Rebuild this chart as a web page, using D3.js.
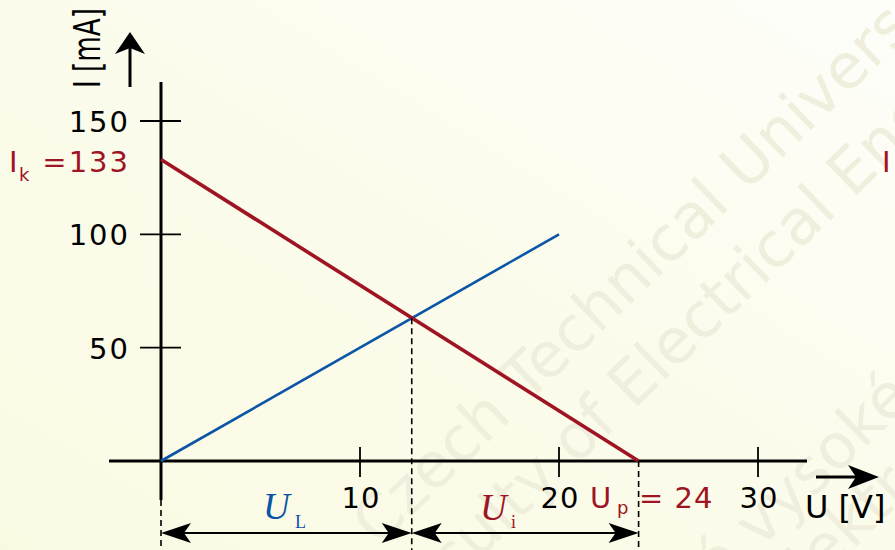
<!DOCTYPE html>
<html lang="en">
<head>
	<meta charset="utf-8">
	<title>Zatěžovací charakteristika</title>
	<script src='https://d3js.org/d3.v7.min.js'></script>
	<style>
		body { margin: 0; overflow: hidden; }
		text { font-family: "DejaVu Sans", sans-serif; }
	</style>
</head>
<body>
	<div id="chart"></div>
	<script>
		// values
		const xTicks = [10, 20, 30];
		const yTicks = [50, 100, 150];
		const sourceLine = [ {u: 0, i: 133}, {u: 24, i: 0} ];   // red
		const loadLine = [ {u: 0, i: 0}, {u: 20, i: 100} ];     // blue
		const Ik = 133;
		const Up = 24;
		const opPoint = {u: 12.6, i: 63};
		const watermark = [
			"Czech Technical University",
			"Faculty of Electrical Engineering",
			"České vysoké učení",
			"Fakulta elektrotechnická"
		];

		let width = 895;
		let height = 550;
		let red = "#9f1422";
		let blue = "#0b55a6";

		let svg = d3.select("#chart")
					.append("svg")
					.attr("width", width)
					.attr("height", height);

		// background
		let defs = svg.append("defs");
		let grad = defs.append("linearGradient")
					.attr("id", "bg")
					.attr("x1", "0").attr("y1", "1")
					.attr("x2", "1").attr("y2", "0");
		grad.append("stop").attr("offset", "0").attr("stop-color", "#fafae3");
		grad.append("stop").attr("offset", "0.6").attr("stop-color", "#fcfcee");
		grad.append("stop").attr("offset", "1").attr("stop-color", "#fefefa");
		svg.append("rect")
			.attr("width", width).attr("height", height)
			.attr("fill", "url(#bg)");

		// faint watermark, clipped to the picture like in the original
		defs.append("clipPath").attr("id", "clip")
			.append("rect").attr("width", width).attr("height", height);
		let wmPos = [ [378, 548], [404, 632], [612, 692], [612, 782] ];
		svg.append("g")
			.attr("clip-path", "url(#clip)")
			.selectAll("text")
			.data(watermark)
			.enter()
			.append("text")
			.attr("transform", (d, k) => "translate(" + wmPos[k][0] + "," + wmPos[k][1] + ") rotate(-44)")
			.style("font-size", "62px")
			.attr("fill", "#f0efdd")
			.text(d => d);

		// scales
		let x = d3.scaleLinear().domain([0, 30]).range([161, 758]);
		let y = d3.scaleLinear().domain([0, 150]).range([461, 121]);

		// axes
		svg.append("line")
			.attr("x1", 109).attr("x2", 807)
			.attr("y1", y(0)).attr("y2", y(0))
			.attr("stroke", "#000").attr("stroke-width", 3);
		svg.append("line")
			.attr("x1", x(0)).attr("x2", x(0))
			.attr("y1", 82).attr("y2", 500)
			.attr("stroke", "#000").attr("stroke-width", 3);

		// ticks
		svg.selectAll("line.xtick")
			.data(xTicks)
			.enter()
			.append("line")
			.attr("class", "xtick")
			.attr("x1", d => x(d)).attr("x2", d => x(d))
			.attr("y1", y(0) - 14).attr("y2", y(0) + 16)
			.attr("stroke", "#000").attr("stroke-width", 1.8);
		svg.selectAll("text.xlab")
			.data(xTicks)
			.enter()
			.append("text")
			.attr("class", "xlab")
			.attr("x", d => x(d) + 1)
			.attr("y", 508)
			.attr("text-anchor", "middle")
			.style("font-size", "29px")
			.style("letter-spacing", "1px")
			.text(d => d);
		svg.selectAll("line.ytick")
			.data(yTicks)
			.enter()
			.append("line")
			.attr("class", "ytick")
			.attr("x1", x(0) - 21).attr("x2", x(0) + 20)
			.attr("y1", d => y(d)).attr("y2", d => y(d))
			.attr("stroke", "#000").attr("stroke-width", 1.8);
		svg.selectAll("text.ylab")
			.data(yTicks)
			.enter()
			.append("text")
			.attr("class", "ylab")
			.attr("x", 130)
			.attr("y", d => y(d) + 11)
			.attr("text-anchor", "end")
			.style("font-size", "29px")
			.style("letter-spacing", "2px")
			.text(d => d);

		// arrows at the axis ends
		svg.append("line")
			.attr("x1", 130).attr("x2", 130).attr("y1", 87).attr("y2", 48)
			.attr("stroke", "#000").attr("stroke-width", 3);
		svg.append("path")
			.attr("d", "M130,32 L145,54 L130,48 L115,54 Z")
			.attr("fill", "#000");
		svg.append("line")
			.attr("x1", 816).attr("x2", 862).attr("y1", 477).attr("y2", 477)
			.attr("stroke", "#000").attr("stroke-width", 3);
		svg.append("path")
			.attr("d", "M879,477 L848,489 L856,477 L848,465 Z")
			.attr("fill", "#000");

		// axis titles
		svg.append("text")
			.attr("transform", "translate(100,88) rotate(-90)")
			.attr("textLength", 80)
			.attr("lengthAdjust", "spacingAndGlyphs")
			.style("font-size", "38px")
			.text("I [mA]");
		svg.append("text")
			.attr("x", 805).attr("y", 518)
			.style("font-size", "32px")
			.text("U [V]");

		// characteristic lines
		let line = d3.line().x(d => x(d.u)).y(d => y(d.i));
		svg.append("path")
			.datum(loadLine)
			.attr("fill", "none")
			.attr("stroke", blue)
			.attr("stroke-width", 2.6)
			.attr("d", line);
		svg.append("path")
			.datum(sourceLine)
			.attr("fill", "none")
			.attr("stroke", red)
			.attr("stroke-width", 3.6)
			.attr("d", line);

		// dashed guides
		let dashes = [
			{u: 0, top: 500},
			{u: opPoint.u, top: y(opPoint.i)},
			{u: Up, top: y(0)}
		];
		svg.selectAll("line.guide")
			.data(dashes)
			.enter()
			.append("line")
			.attr("class", "guide")
			.attr("x1", d => x(d.u)).attr("x2", d => x(d.u))
			.attr("y1", d => d.top).attr("y2", height)
			.attr("stroke", "#000").attr("stroke-width", 1.6)
			.attr("stroke-dasharray", "6,4");

		// dimension arrows UL and Ui
		let dimY = 533;
		let spans = [ [0, opPoint.u], [opPoint.u, Up] ];
		spans.forEach(s => {
			let a = x(s[0]), b = x(s[1]);
			svg.append("line")
				.attr("x1", a + 20).attr("x2", b - 20)
				.attr("y1", dimY).attr("y2", dimY)
				.attr("stroke", "#000").attr("stroke-width", 2);
			svg.append("path")
				.attr("d", "M" + a + "," + dimY + " l30,-10 l-7,10 l7,10 Z")
				.attr("fill", "#000");
			svg.append("path")
				.attr("d", "M" + b + "," + dimY + " l-30,-10 l7,10 l-7,10 Z")
				.attr("fill", "#000");
		});

		// labels
		let serif = "'Liberation Serif', 'DejaVu Serif', serif";
		svg.append("text")
			.attr("x", 263).attr("y", 519)
			.style("font-family", serif).style("font-style", "italic")
			.style("font-size", "37px").attr("fill", blue)
			.text("U");
		svg.append("text")
			.attr("x", 295).attr("y", 528)
			.style("font-family", serif)
			.style("font-size", "18px").attr("fill", blue)
			.text("L");
		svg.append("text")
			.attr("x", 480).attr("y", 520)
			.style("font-family", serif).style("font-style", "italic")
			.style("font-size", "37px").attr("fill", red)
			.text("U");
		svg.append("text")
			.attr("x", 511).attr("y", 528)
			.style("font-family", serif)
			.style("font-size", "18px").attr("fill", red)
			.text("i");

		// Ik label
		svg.append("text")
			.attr("x", 9).attr("y", y(Ik) + 12)
			.style("font-size", "29px").attr("fill", red)
			.text("I");
		svg.append("text")
			.attr("x", 19).attr("y", y(Ik) + 21)
			.style("font-size", "18px").attr("fill", red)
			.text("k");
		svg.append("text")
			.attr("x", 130).attr("y", y(Ik) + 12)
			.attr("text-anchor", "end")
			.style("font-size", "29px").style("letter-spacing", "2px").attr("fill", red)
			.text("=" + Ik);

		// Up label
		svg.append("text")
			.attr("x", 590).attr("y", 508)
			.style("font-size", "29px").attr("fill", red)
			.text("U");
		svg.append("text")
			.attr("x", 617).attr("y", 514)
			.style("font-size", "18px").attr("fill", red)
			.text("p");
		svg.append("text")
			.attr("x", 639).attr("y", 508)
			.style("font-size", "29px").style("letter-spacing", "1px").attr("fill", red)
			.text("= " + Up);

		// label cut off at the right edge
		svg.append("text")
			.attr("x", 882).attr("y", 172)
			.style("font-size", "29px").attr("fill", red)
			.text("I");
	</script>
</body>
</html>
